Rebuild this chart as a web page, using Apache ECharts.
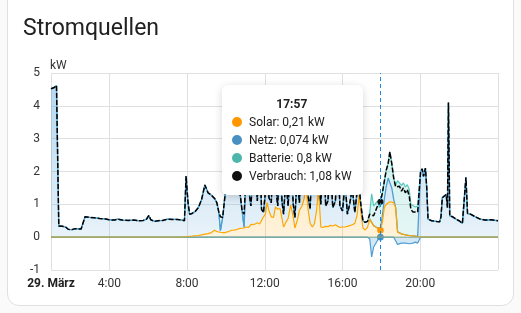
<!DOCTYPE html>
<html>
<head>
<meta charset="utf-8">
<script src="https://cdn.jsdelivr.net/npm/echarts@6/dist/echarts.min.js"></script>
<style>
  html, body { margin: 0; padding: 0; width: 521px; height: 313px; overflow: hidden; background: #fafafa; font-family: Roboto, sans-serif; }
  #card { position: absolute; left: 7px; top: -12px; width: 505px; height: 316px; background: #fff; border: 1px solid #e0e0e0; border-radius: 12px; }
  #chart { position: absolute; left: 0; top: 0; width: 521px; height: 313px; }
</style>
</head>
<body>
<div id="card"></div>
<div id="chart"></div>
<script>
// ---- data ----
const times = [
  "01:00","01:10","01:17","01:24","01:35","01:45","01:53","02:05","02:15","02:25",
  "02:33","02:45","03:00","03:15","03:30","03:45","04:00","04:15","04:25","04:40",
  "05:00","05:15","05:30","05:45","05:55","06:02","06:08","06:20","06:30","06:45",
  "07:00","07:15","07:30","07:45","07:52","07:57","08:03","08:08","08:15","08:25",
  "08:35","08:45","08:55","09:05","09:15","09:25","09:32","09:38","09:43","09:50",
  "09:57","10:03","10:10","10:17","10:23","10:30","10:37","10:44","10:50","10:56",
  "11:03","11:10","11:17","11:23","11:30","11:37","11:44","11:50","11:56","12:02",
  "12:07","12:13","12:20","12:27","12:33","12:40","12:47","12:53","12:58","13:05",
  "13:12","13:20","13:28","13:33","13:40","13:47","13:55","14:02","14:07","14:13",
  "14:20","14:27","14:33","14:40","14:46","14:53","15:00","15:08","15:15","15:22",
  "15:30","15:38","15:45","15:52","16:00","16:08","16:15","16:22","16:30","16:38",
  "16:45","16:52","16:57","17:03","17:10","17:17","17:24","17:30","17:36","17:42",
  "17:48","17:54","17:57","18:03","18:09","18:15","18:21","18:26","18:32","18:38",
  "18:44","18:50","18:56","19:02","19:08","19:14","19:20","19:26","19:31","19:37",
  "19:45","19:52","19:58","20:01","20:06","20:10","20:16","20:20","20:24","20:35",
  "20:50","21:00","21:04","21:08","21:14","21:20","21:24","21:27","21:31","21:40",
  "21:50","22:00","22:10","22:16","22:21","22:26","22:35","22:50","23:05","23:20",
  "23:35","23:45","24:00"
];
const consumption = [
  4.52,4.56,4.62,0.34,0.33,0.31,0.24,0.23,0.26,0.25,
  0.25,0.62,0.60,0.59,0.57,0.56,0.53,0.52,0.55,0.52,
  0.51,0.52,0.50,0.51,0.55,0.66,0.53,0.48,0.50,0.51,
  0.55,0.54,0.54,0.52,0.50,1.86,1.05,0.70,0.72,0.78,
  0.90,1.15,1.59,1.35,1.28,1.18,1.05,0.77,0.62,0.60,
  1.25,1.75,2.40,1.90,2.80,1.60,2.20,1.30,0.80,0.70,
  2.10,1.50,0.95,1.80,2.50,1.10,2.90,0.85,0.75,1.40,
  2.20,1.20,1.05,2.60,1.60,0.95,3.10,1.10,0.70,1.80,
  0.95,2.40,1.00,0.60,1.90,1.05,3.20,1.80,2.50,1.30,
  0.85,2.70,1.30,2.00,1.90,1.00,3.40,0.95,1.10,2.30,
  0.90,1.10,2.60,0.95,0.80,1.70,0.70,1.00,1.50,0.75,
  1.40,1.45,0.95,0.50,0.45,0.48,0.70,0.72,0.65,0.70,
  0.95,0.90,1.08,1.34,1.70,2.04,2.25,2.60,2.25,1.80,
  1.53,1.50,1.55,1.40,1.50,1.35,1.45,1.25,0.85,0.77,
  0.77,0.77,0.77,2.00,2.08,1.85,2.10,1.50,0.55,0.50,
  0.48,0.47,0.62,1.20,1.25,1.30,0.90,4.10,0.65,0.62,
  0.55,0.50,0.42,0.42,1.82,0.72,0.70,0.62,0.55,0.52,
  0.53,0.52,0.50
];
const solar = [
  0,0,0,0,0,0,0,0,0,0,
  0,0,0,0,0,0,0,0,0,0,
  0,0,0,0,0,0,0,0,0,0,
  0,0,0,0,0.01,0.01,0.02,0.02,0.03,0.04,
  0.05,0.07,0.09,0.11,0.14,0.21,0.17,0.15,0.15,0.14,
  0.14,0.16,0.18,0.21,0.24,0.22,0.25,0.27,0.30,0.28,
  0.31,0.30,0.38,0.35,0.40,0.44,0.40,0.45,0.62,0.70,
  1.05,0.80,0.62,0.60,0.92,0.85,0.88,0.57,0.31,0.45,
  0.57,0.98,0.60,0.28,0.50,0.82,0.95,1.20,1.70,0.90,
  0.42,0.31,0.40,0.82,1.45,0.31,0.30,0.33,0.32,0.36,
  0.34,0.38,0.33,0.30,0.31,0.31,0.33,0.35,0.38,0.42,
  0.67,1.30,0.75,0.28,0.22,0.30,0.55,0.53,0.35,0.30,
  0.28,0.24,0.21,0.45,0.90,1.00,1.05,1.08,1.10,1.05,
  0.90,0.16,0.12,0.10,0.08,0.07,0.06,0.05,0.04,0.04,
  0.03,0.02,0.01,0,0,0,0,0,0,0,
  0,0,0,0,0,0,0,0,0,0,
  0,0,0,0,0,0,0,0,0,0,
  0,0,0
];
const grid = [
  4.52,4.56,4.62,0.34,0.33,0.31,0.24,0.23,0.26,0.25,
  0.25,0.62,0.60,0.59,0.57,0.56,0.53,0.52,0.55,0.52,
  0.51,0.52,0.50,0.51,0.55,0.66,0.53,0.48,0.50,0.51,
  0.55,0.54,0.54,0.52,0.49,1.85,1.03,0.68,0.69,0.74,
  0.85,1.08,1.50,1.24,1.14,0.97,0.88,0.62,0.05,0.46,
  1.11,1.59,2.22,1.69,2.56,1.38,1.95,1.03,0.50,0.02,
  1.79,1.20,0.57,1.45,2.10,0.66,2.50,0.40,0.13,0.70,
  1.15,0.40,0.43,2.00,0.68,0.10,2.22,0.53,0.39,1.35,
  0.38,1.42,0.40,0.32,1.40,0.23,2.25,0.60,0.80,0.40,
  0.43,2.39,0.90,1.18,0.45,0.69,3.10,0.62,0.78,1.94,
  0.56,0.72,2.27,0.65,0.49,1.39,0.37,0.65,1.12,0.33,
  0.73,0.15,0.20,0.22,0.23,0.18,-0.05,-0.60,-0.30,-0.20,
  -0.15,0.00,0.074,0.20,0.25,0.55,0.75,0.70,0.40,0.10,
  -0.05,-0.22,-0.20,-0.18,-0.15,-0.18,-0.15,-0.20,-0.15,-0.18,
  -0.15,-0.18,-0.20,2.00,2.08,1.85,2.10,1.50,0.55,0.50,
  0.48,0.47,0.62,1.20,1.25,1.30,0.90,4.10,0.65,0.62,
  0.55,0.50,0.42,0.42,1.82,0.72,0.70,0.62,0.55,0.52,
  0.53,0.52,0.50
];
const battery = [
  0,0,0,0,0,0,0,0,0,0,
  0,0,0,0,0,0,0,0,0,0,
  0,0,0,0,0,0,0,0,0,0,
  0,0,0,0,0,0,0,0,0,0,
  0,0,0,0,0,0,0,0,0,0,
  0,0,0,0,0,0,0,0,0,0,
  0,0,0,0,0,0,0,0,0,0,
  0,0,0,0,0,0,0,0,0,0,
  0,0,0,0,0,0,0,0,0,0,
  0,0,0,0,0,0,0,0,0,0,
  0,0,0,0,0,0,0,0,0,0,
  0,0,0,0,0,0,0.20,0.79,0.60,0.60,
  0.82,0.66,0.80,0.69,0.55,0.49,0.45,0.82,0.75,0.65,
  0.68,1.56,1.63,1.48,1.57,1.46,1.54,1.40,0.96,0.91,
  0.89,0.93,0.96,0,0,0,0,0,0,0,
  0,0,0,0,0,0,0,0,0,0,
  0,0,0,0,0,0,0,0,0,0,
  0,0,0
];
const xTicks = [1, 4, 8, 12, 16, 20, 24];
const dayLabel = "29. März";
const tipTime = "17:57";

// ---- build ----
const C = { solar: '#ff9800', grid: '#488fc2', batt: '#4db6ac', use: '#000000' };
const hours = t => { const p = t.split(':').map(Number); return p[0] + p[1] / 60; };
const xs = times.map(hours);
// value first, hour second (encode maps them), so that stacking happens on the value dimension
const pair = arr => arr.map((v, i) => [v, xs[i]]);
const ENC = { x: 1, y: 0 };
const rgba = (hex, a) => {
  const n = parseInt(hex.slice(1), 16);
  return `rgba(${n >> 16},${(n >> 8) & 255},${n & 255},${a})`;
};
const grad = (hex, a0, a1, y0, y1) => new echarts.graphic.LinearGradient(0, y0, 0, y1,
  [{ offset: 0, color: rgba(hex, a0) }, { offset: 1, color: rgba(hex, a1) }], true);

const chart = echarts.init(document.getElementById('chart'), null, { renderer: 'canvas' });
const FONT = 'Roboto';
const fmt = v => String(v).replace('.', ',');

const option = {
  animation: false,
  title: {
    text: 'Stromquellen', left: 18, top: 13,
    textStyle: { fontFamily: FONT, fontSize: 23, fontWeight: 400, color: '#212121' }
  },
  grid: { left: 51, right: 23, top: 73, bottom: 43 },
  xAxis: {
    type: 'value', min: 1, max: 24,
    axisLine: { show: false },
    axisTick: { show: false, customValues: xTicks },
    splitLine: { show: true, lineStyle: { color: '#e0e0e0', width: 1 } },
    axisLabel: {
      customValues: xTicks.slice(0, -1),
      margin: 8, fontFamily: FONT, fontSize: 12, color: '#333',
      formatter: v => v === xTicks[0] ? '{b|' + dayLabel + '}' : (v >= 24 ? '' : v + ':00'),
      rich: { b: { fontFamily: FONT, fontSize: 12, fontWeight: 700, color: '#212121' } }
    }
  },
  yAxis: {
    type: 'value', min: -1, max: 5, interval: 1,
    name: 'kW', nameLocation: 'end', nameGap: 1,
    nameTextStyle: { fontFamily: FONT, fontSize: 12, color: '#333', align: 'left', padding: [0, 0, 0, -1] },
    axisLine: { show: false }, axisTick: { show: false },
    splitLine: { lineStyle: { color: '#e0e0e0', width: 1 } },
    axisLabel: { margin: 11, fontFamily: FONT, fontSize: 12, color: '#333' }
  },
  tooltip: {
    trigger: 'axis', triggerOn: 'none', alwaysShowContent: true,
    position: [222, 85], transitionDuration: 0,
    backgroundColor: '#fff', borderWidth: 0, padding: [10, 11, 10, 10],
    extraCssText: 'box-shadow:0 2px 8px rgba(0,0,0,0.16);border-radius:6px;',
    textStyle: { fontFamily: FONT, fontSize: 12, color: '#212121' },
    axisPointer: { type: 'line', animation: false, lineStyle: { color: '#1e88e5', width: 1, type: [4, 3] } },
    formatter: params => {
      const p = params.find(q => q.seriesName === 'Verbrauch') || params[0];
      const i = p.dataIndex;
      const rows = [
        ['Solar', C.solar, solar[i]], ['Netz', C.grid, grid[i]],
        ['Batterie', C.batt, battery[i]], ['Verbrauch', '#111', consumption[i]]
      ];
      let h = `<div style="text-align:center;font-weight:700;line-height:18px">${times[i]}</div>`;
      rows.forEach(r => {
        h += `<div style="line-height:18px;white-space:nowrap"><span style="display:inline-block;width:10px;height:10px;border-radius:50%;background:${r[1]};margin-right:7px;vertical-align:-1px"></span>${r[0]}: ${fmt(r[2])} kW</div>`;
      });
      return h;
    }
  },
  series: [
    {
      name: 'Solar', type: 'line', stack: 'pos', data: pair(solar), encode: ENC, z: 3,
      showSymbol: false, symbol: 'circle', symbolSize: 6, color: C.solar,
      lineStyle: { width: 1.2, color: C.solar },
      areaStyle: { color: grad(C.solar, 0.55, 0.2, 73, 237) }
    },
    {
      name: 'Netz', type: 'line', stack: 'pos', data: pair(grid.map(v => v > 0 ? v : 0)), encode: ENC, z: 2,
      symbol: 'none', color: C.grid,
      lineStyle: { width: 1.3, color: C.grid },
      areaStyle: { color: grad(C.grid, 0.62, 0.18, 73, 237) }
    },
    {
      name: 'Batterie', type: 'line', stack: 'pos', data: pair(battery.map(v => v > 0 ? v : 0)), encode: ENC, z: 1,
      symbol: 'none', color: C.batt,
      lineStyle: { width: 1.2, color: C.batt },
      areaStyle: { color: grad(C.batt, 0.5, 0.22, 73, 237) }
    },
    {
      name: 'Netz-', type: 'line', stack: 'neg', data: pair(grid.map(v => v < 0 ? v : 0)), encode: ENC, z: 2,
      showSymbol: false, symbol: 'circle', symbolSize: 6, color: C.grid,
      lineStyle: { width: 1.2, color: C.grid },
      areaStyle: { color: rgba(C.grid, 0.35) }
    },
    {
      name: 'Batterie-', type: 'line', data: pair(battery.map(v => v < 0 ? v : 0)), encode: ENC, z: 3,
      symbol: 'none', color: C.batt,
      lineStyle: { width: 1, color: '#6f9a80' }
    },
    {
      name: 'Verbrauch', type: 'line', data: pair(consumption), encode: ENC, z: 4,
      showSymbol: false, symbol: 'circle', symbolSize: 5, color: '#111',
      lineStyle: { width: 1.5, color: C.use, type: [5, 2] }
    }
  ]
};
chart.setOption(option);
const ti = times.indexOf(tipTime);
const px = chart.convertToPixel({ xAxisIndex: 0, yAxisIndex: 0 }, [xs[ti], 1]);
chart.dispatchAction({ type: 'showTip', x: px[0], y: px[1] });
</script>
</body>
</html>
